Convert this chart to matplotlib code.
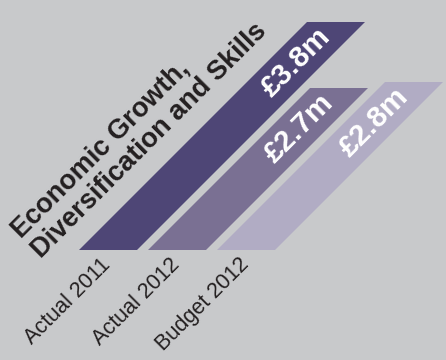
import numpy as np
import matplotlib
matplotlib.use("Agg")
import matplotlib.pyplot as plt
from matplotlib.transforms import Affine2D

# Spending by period, in £ millions
categories = ["Actual 2011", "Actual 2012", "Budget 2012"]
values = [3.8, 2.7, 2.8]
value_labels = ["£3.8m", "£2.7m", "£2.8m"]
title = "Economic Growth,\nDiversification and Skills"

bar_colors = ["#4e4676", "#7a7093", "#b1acc4"]
background = "#c8c9cb"
ink = "#231f20"

plt.rcParams["font.family"] = ["Liberation Sans", "DejaVu Sans"]

W, H, DPI = 446, 360, 100
fig = plt.figure(figsize=(W / DPI, H / DPI), dpi=DPI, facecolor=background)
ax = fig.add_axes([0, 0, 1, 1])
ax.set_facecolor(background)
ax.axis("off")

# one x unit = 69 px (category pitch), one y unit (£1m) = 60 px
px_x, px_y = 69.0, 60.0
x0_px, base_px = 108.0, 250.0
ax.set_xlim(-x0_px / px_x, (W - x0_px) / px_x)
ax.set_ylim(-(H - base_px) / px_y, base_px / px_y)

# shear so the bars lean at 45 degrees
k = px_y / px_x
shear = Affine2D(np.array([[1.0, k, 0.0], [0.0, 1.0, 0.0], [0.0, 0.0, 1.0]]))
skewed = shear + ax.transData

x = np.arange(len(categories))
ax.bar(x, values, width=58 / px_x, color=bar_colors, linewidth=0,
       transform=skewed)

# value labels running up each bar
for xi, v, lab in zip(x, values, value_labels):
    ax.text(xi, v - 0.67, lab, transform=skewed, rotation=45,
            rotation_mode="anchor", ha="center", va="center",
            color="white", fontsize=21.5, fontweight="bold")

# category labels below the bars
for xi, cat in zip(x, categories):
    ax.text(xi + 0.05, -0.26, cat, rotation=45, rotation_mode="anchor",
            ha="right", va="baseline", color=ink, fontsize=15.5)

# heading
ax.text(-1.00, -0.12, title, rotation=45, rotation_mode="anchor",
        ha="left", va="baseline", color=ink, fontsize=19.5,
        fontweight="bold", linespacing=1.15)

fig.savefig("out.png", dpi=DPI, facecolor=background)
